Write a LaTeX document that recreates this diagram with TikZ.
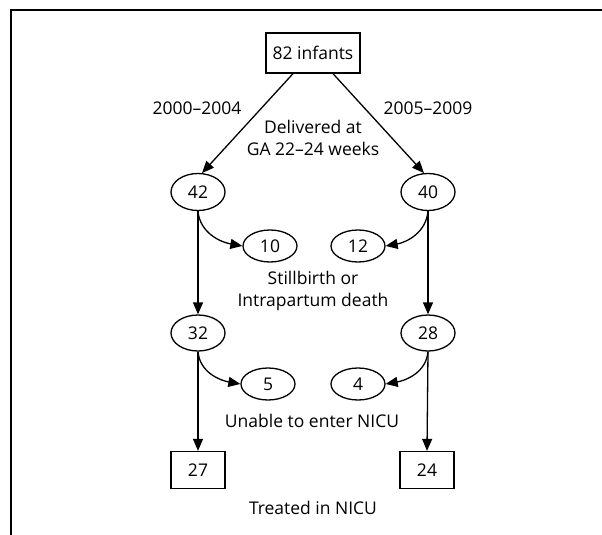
\documentclass[tikz,border=0pt]{standalone}
\usepackage{fontspec}
\setmainfont{Open Sans}
\usetikzlibrary{shapes.geometric,arrows.meta}
\begin{document}
\begin{tikzpicture}[x=1pt,y=-1pt,
  every node/.style={font=\fontsize{17.5}{21.5}\selectfont},
  oval/.style={draw,ellipse,line width=1.3pt,minimum width=54pt,minimum height=37pt,inner sep=0pt},
  smalloval/.style={oval,minimum height=32pt},
  sqbox/.style={draw,rectangle,line width=1.3pt,minimum width=54pt,minimum height=37pt,inner sep=0pt},
  lbl/.style={align=center,inner sep=0pt},
  arr/.style={line width=1.3pt,-{Triangle[length=12pt,width=10pt]}}]
\useasboundingbox (0,0) rectangle (602,535);
\fill[white] (0,0) rectangle (602,535);
% frame
\coordinate (fl) at (11,535);
\coordinate (fc) at (11,10);
\coordinate (fr) at (602,10);
\draw[line width=1.2pt] (fl) -- (fc) -- (fr);
% nodes
\node[sqbox,minimum width=94pt,minimum height=40pt] (top) at (313,53) {82 infants};
\node[lbl] (p1) at (197,108) {2000--2004};
\node[lbl] (p2) at (428,108) {2005--2009};
\node[lbl] (del) at (313,138) {Delivered at\\GA 22--24 weeks};
\node[oval] (a1) at (198,192) {42};
\node[oval] (b1) at (428,192) {40};
\node[smalloval] (a2) at (270,246) {10};
\node[smalloval] (b2) at (358,246) {12};
\node[lbl] (still) at (313,291) {Stillbirth or\\Intrapartum death};
\node[oval,minimum height=36pt] (a3) at (198,333) {32};
\node[oval,minimum height=36pt] (b3) at (428,333) {28};
\node[smalloval] (a4) at (268,384) {5};
\node[smalloval] (b4) at (358,384) {4};
\node[lbl] (unable) at (312,421) {Unable to enter NICU};
\node[sqbox] (a5) at (198,470) {27};
\node[sqbox] (b5) at (427,470) {24};
\node[lbl] (treat) at (313,508) {Treated in NICU};
% connectors
\draw[arr] ([xshift=-20pt]top.south) -- (a1.78);
\draw[arr] ([xshift=20pt]top.south) -- (b1.102);
\draw[arr] (a1.south) to[out=-85,in=170] (a2.west);
\draw[arr] (b1.south) to[out=-95,in=10] (b2.east);
\draw[arr] (a1.south) -- (a3.north);
\draw[arr] (b1.south) -- (b3.north);
\draw[arr] (a3.south) to[out=-85,in=170] (a4.west);
\draw[arr] (b3.south) to[out=-95,in=10] (b4.east);
\draw[arr] (a3.south) -- (a5.north);
\draw[arr] (b3.south) -- (b5.north);
\end{tikzpicture}
\end{document}
